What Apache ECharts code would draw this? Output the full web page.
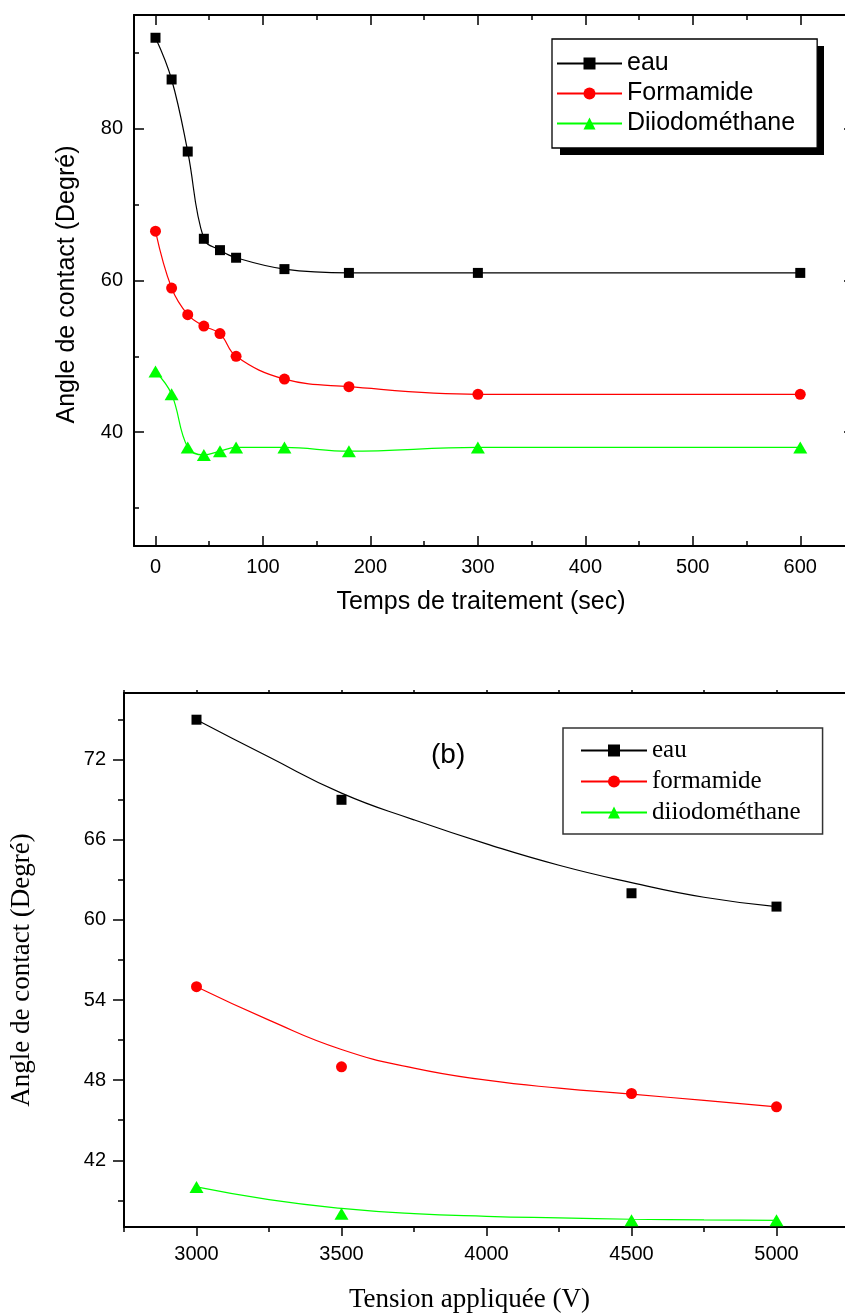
<!DOCTYPE html>
<html>
<head>
<meta charset="utf-8">
<script src="https://cdn.jsdelivr.net/npm/echarts@6/dist/echarts.min.js"></script>
<style>
  html, body { margin: 0; padding: 0; background: #fff; }
  #main { width: 845px; height: 1314px; }
</style>
</head>
<body>
<div id="main"></div>
<script>
// (a) angle de contact vs temps de traitement
var timeSec = [0, 15, 30, 45, 60, 75, 120, 180, 300, 600];
var eauA = [92, 86.5, 77, 65.5, 64, 63, 61.5, 61, 61, 61];
var formamideA = [66.5, 59, 55.5, 54, 53, 50, 47, 46, 45, 45];
var diiodoA = [48, 45, 38, 37, 37.5, 38, 38, 37.5, 38, 38];

// (b) angle de contact vs tension appliquee
var tension = [3000, 3500, 4500, 5000];
var eauB = [75, 69, 62, 61];
var formamideB = [55, 49, 47, 46];
var diiodoB = [40, 38, 37.5, 37.5];

// fitted curves of (b)
var fitX = [3000, 3250, 3500, 3750, 4000, 4250, 4500, 4750, 5000];
var eauFit = [75, 72.2, 69.5, 67.5, 65.7, 64.1, 62.8, 61.7, 61];
var formamideFit = [55, 52.5, 50.3, 48.9, 48, 47.4, 46.95, 46.48, 46];
var diiodoFit = [40, 39.05, 38.4, 38, 37.8, 37.68, 37.58, 37.53, 37.5];

// ticks
var xTicksA = [0, 100, 200, 300, 400, 500, 600];
var xMinorA = [50, 150, 250, 350, 450, 550];
var yTicksA = [40, 60, 80];
var yMinorA = [30, 50, 70, 90];
var xTicksB = [3000, 3500, 4000, 4500, 5000];
var xMinorB = [2750, 3250, 3750, 4250, 4750];
var xTopB = [2750, 3000, 3250, 3500, 3750, 4000, 4250, 4500, 4750, 5000];
var yTicksB = [42, 48, 54, 60, 66, 72];
var yMinorB = [39, 45, 51, 57, 63, 69, 75];

var SANS = 'Liberation Sans';
var SERIF = 'Liberation Serif';

function pairs(xs, ys) {
    var out = [];
    for (var i = 0; i < xs.length; i++) {
        out.push([xs[i], ys[i]]);
    }
    return out;
}

// one axis: line or not, ticks at given values, optional labels
function axis(grid, pos, min, max, ticks, len, inside, showLine, label) {
    var a = {
        type: 'value',
        gridIndex: grid,
        position: pos,
        min: min,
        max: max,
        splitLine: { show: false },
        axisLine: { show: showLine, onZero: false, lineStyle: { color: '#000', width: 2 } },
        axisTick: { show: true, inside: inside, length: len, customValues: ticks, lineStyle: { color: '#000', width: 1.5 } },
        axisLabel: { show: false }
    };
    if (label) {
        a.axisLabel = {
            show: true,
            customValues: ticks,
            color: '#000',
            fontSize: 20,
            fontFamily: SANS,
            margin: label.margin,
            formatter: function (v) { return String(v); }
        };
    }
    return a;
}

var myChart = echarts.init(document.getElementById('main'));

var xA = axis(0, 'bottom', -20, 650, xTicksA, 10, true, true, { margin: 11 });
xA.name = 'Temps de traitement (sec)';
xA.nameLocation = 'middle';
xA.nameGap = 44;
xA.nameTextStyle = { color: '#000', fontSize: 25, fontFamily: SANS, padding: [0, 26, 0, 0] };

var yA = axis(0, 'left', 25, 95, yTicksA, 10, true, true, { margin: 11 });
yA.name = 'Angle de contact (Degré)';
yA.nameLocation = 'middle';
yA.nameGap = 54;
yA.nameTextStyle = { color: '#000', fontSize: 25, fontFamily: SANS, padding: [0, 8, 0, 0] };

var xB = axis(1, 'bottom', 2750, 5250, xTicksB, 9, false, true, { margin: 17 });
xB.name = 'Tension appliquée (V)';
xB.nameLocation = 'middle';
xB.nameGap = 59;
xB.nameTextStyle = { color: '#000', fontSize: 27, fontFamily: SERIF, padding: [0, 34, 0, 0] };

var yB = axis(1, 'left', 37, 77, yTicksB, 11, false, true, { margin: 18 });
yB.name = 'Angle de contact (Degré)';
yB.nameLocation = 'middle';
yB.nameGap = 89;
yB.nameTextStyle = { color: '#000', fontSize: 27, fontFamily: SERIF, padding: [0, 20, 0, 0] };

var option = {
    animation: false,
    backgroundColor: '#fff',
    grid: [
        { left: 134, top: 15, width: 720, height: 531, outerBoundsMode: 'none', containLabel: false },
        { left: 124, top: 693, width: 725, height: 534, outerBoundsMode: 'none', containLabel: false }
    ],
    xAxis: [
        xA,
        axis(0, 'bottom', -20, 650, xMinorA, 5, true, false),
        axis(0, 'top', -20, 650, xTicksA, 10, true, true),
        axis(0, 'top', -20, 650, xMinorA, 5, true, false),
        xB,
        axis(1, 'bottom', 2750, 5250, xMinorB, 5, false, false),
        axis(1, 'top', 2750, 5250, xTopB, 3, false, true)
    ],
    yAxis: [
        yA,
        axis(0, 'left', 25, 95, yMinorA, 5, true, false),
        axis(0, 'right', 25, 95, yTicksA, 10, true, true),
        axis(0, 'right', 25, 95, yMinorA, 5, true, false),
        yB,
        axis(1, 'left', 37, 77, yMinorB, 6, false, false),
        axis(1, 'right', 37, 77, [], 0, false, true)
    ],
    legend: [
        {
            data: ['eau', 'Formamide', 'Diiodométhane'],
            orient: 'vertical',
            left: 552,
            top: 39,
            z: 5,
            itemWidth: 65,
            itemHeight: 15,
            itemGap: 5,
            padding: [12, 22, 12, 4],
            selectedMode: false,
            backgroundColor: '#fff',
            borderColor: '#000',
            borderWidth: 1.3,
            textStyle: { color: '#000', fontSize: 25, fontFamily: SANS }
        },
        {
            data: ['eau', 'formamide', 'diiodométhane'],
            orient: 'vertical',
            left: 563,
            top: 728,
            itemWidth: 66,
            itemHeight: 15,
            itemGap: 6,
            padding: [10, 22, 9, 17],
            selectedMode: false,
            backgroundColor: '#fff',
            borderColor: '#333',
            borderWidth: 1.5,
            textStyle: { color: '#000', fontSize: 25, fontFamily: SERIF }
        }
    ],
    graphic: [
        // black drop shadow behind the first legend box
        {
            type: 'rect',
            left: 560,
            top: 46,
            z: 1,
            shape: { width: 264, height: 109 },
            style: { fill: '#000' }
        },
        {
            type: 'text',
            left: 431,
            top: 741,
            style: { text: '(b)', fill: '#000', font: '28px "Liberation Sans"' }
        }
    ],
    series: [
        {
            name: 'eau', type: 'line', xAxisIndex: 0, yAxisIndex: 0,
            data: pairs(timeSec, eauA), smooth: 0.4,
            symbol: 'rect', symbolSize: 10,
            itemStyle: { color: '#000' }, lineStyle: { color: '#000', width: 1.2 }
        },
        {
            name: 'Formamide', type: 'line', xAxisIndex: 0, yAxisIndex: 0,
            data: pairs(timeSec, formamideA), smooth: 0.4,
            symbol: 'circle', symbolSize: 11,
            itemStyle: { color: '#ff0000' }, lineStyle: { color: '#ff0000', width: 1.2 }
        },
        {
            name: 'Diiodométhane', type: 'line', xAxisIndex: 0, yAxisIndex: 0,
            data: pairs(timeSec, diiodoA), smooth: 0.4,
            symbol: 'triangle', symbolSize: [14, 12],
            itemStyle: { color: '#00ff00' }, lineStyle: { color: '#00ff00', width: 1.2 }
        },
        // (b) fitted lines first so the legend shows line + symbol
        {
            name: 'eau', type: 'line', xAxisIndex: 4, yAxisIndex: 4,
            data: pairs(fitX, eauFit), smooth: true, showSymbol: false,
            symbol: 'rect',
            itemStyle: { color: '#000' }, lineStyle: { color: '#000', width: 1.2 }
        },
        {
            name: 'formamide', type: 'line', xAxisIndex: 4, yAxisIndex: 4,
            data: pairs(fitX, formamideFit), smooth: true, showSymbol: false,
            symbol: 'circle',
            itemStyle: { color: '#ff0000' }, lineStyle: { color: '#ff0000', width: 1.2 }
        },
        {
            name: 'diiodométhane', type: 'line', xAxisIndex: 4, yAxisIndex: 4,
            data: pairs(fitX, diiodoFit), smooth: true, showSymbol: false,
            symbol: 'triangle',
            itemStyle: { color: '#00ff00' }, lineStyle: { color: '#00ff00', width: 1.2 }
        },
        {
            name: 'eau', type: 'scatter', xAxisIndex: 4, yAxisIndex: 4,
            data: pairs(tension, eauB), symbol: 'rect', symbolSize: 10,
            itemStyle: { color: '#000', opacity: 1 }
        },
        {
            name: 'formamide', type: 'scatter', xAxisIndex: 4, yAxisIndex: 4,
            data: pairs(tension, formamideB), symbol: 'circle', symbolSize: 11,
            itemStyle: { color: '#ff0000', opacity: 1 }
        },
        {
            name: 'diiodométhane', type: 'scatter', xAxisIndex: 4, yAxisIndex: 4,
            data: pairs(tension, diiodoB), symbol: 'triangle', symbolSize: [14, 12],
            itemStyle: { color: '#00ff00', opacity: 1 }
        }
    ]
};

myChart.setOption(option);
</script>
</body>
</html>
